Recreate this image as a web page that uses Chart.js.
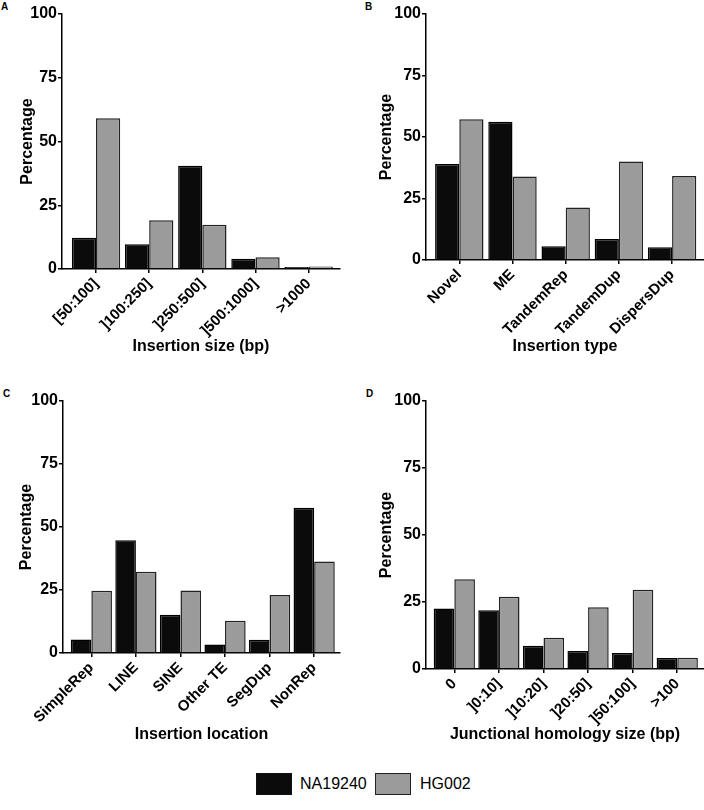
<!DOCTYPE html>
<html>
<head>
<meta charset="utf-8">
<script src="https://cdn.jsdelivr.net/npm/chart.js@4"></script>
<style>
  body { margin: 0; background: #fff; }
  #fig { position: relative; width: 704px; height: 810px; font-family: 'Liberation Sans', Arial, sans-serif; color: #000; }
  canvas { position: absolute; }
  .tag { position: absolute; font-size: 10px; line-height: 10px; font-weight: bold; }
  .key { position: absolute; top: 773px; width: 36px; height: 22px; box-sizing: border-box; border: 1.5px solid #111; }
  .keytxt { position: absolute; top: 775px; font-size: 16px; line-height: 18px; }
</style>
</head>
<body>
<div id="fig">
  <div class="tag" style="left:1px;top:2px">A</div>
  <div class="tag" style="left:365px;top:2px">B</div>
  <div class="tag" style="left:3px;top:389px">C</div>
  <div class="tag" style="left:366px;top:389px">D</div>

  <canvas id="chartA" width="352" height="360" style="left:0;top:0"></canvas>
  <canvas id="chartB" width="352" height="360" style="left:352px;top:0"></canvas>
  <canvas id="chartC" width="352" height="370" style="left:0;top:380px"></canvas>
  <canvas id="chartD" width="352" height="370" style="left:352px;top:380px"></canvas>

  <div class="key" style="left:256px;background:#0b0b0b"></div>
  <div class="keytxt" style="left:300px">NA19240</div>
  <div class="key" style="left:375px;background:#9b9b9b;border-color:#222"></div>
  <div class="keytxt" style="left:420px">HG002</div>
</div>
<script>
const seriesNames = ['NA19240', 'HG002'];

const sizeLabels = ['[50:100]', ']100:250]', ']250:500]', ']500:1000]', '>1000'];
const sizeNA = [12.3, 9.7, 40.5, 4.0, 0.8];
const sizeHG = [59.1, 19.1, 17.4, 4.6, 1.0];

const typeLabels = ['Novel', 'ME', 'TandemRep', 'TandemDup', 'DispersDup'];
const typeNA = [39.0, 56.2, 5.6, 8.5, 5.2];
const typeHG = [57.2, 33.9, 21.3, 40.0, 34.1];

const locLabels = ['SimpleRep', 'LINE', 'SINE', 'Other TE', 'SegDup', 'NonRep'];
const locNA = [5.4, 44.7, 15.2, 3.4, 5.3, 57.6];
const locHG = [24.7, 32.2, 24.8, 12.8, 23.0, 36.3];

const homLabels = ['0', ']0:10]', ']10:20]', ']20:50]', ']50:100]', '>100'];
const homNA = [22.6, 21.9, 8.7, 6.7, 6.0, 4.1];
const homHG = [33.5, 27.0, 11.7, 23.0, 29.6, 4.2];

const yTicks = [0, 25, 50, 75, 100];

const FONT = "'Liberation Sans', Arial, sans-serif";
Chart.defaults.font.family = FONT;
Chart.defaults.color = '#000';

// layout of each panel (pixels inside its canvas)
const panels = [
  { id: 'chartA', labels: sizeLabels, na: sizeNA, hg: sizeHG, title: 'Insertion size (bp)',
    top: 14, zero: 269, yW: 62, padR: 12, xMin: -0.64, xMax: 4.59, cat: 0.91, yPad: 18, tPad: 3.4 },
  { id: 'chartB', labels: typeLabels, na: typeNA, hg: typeHG, title: 'Insertion type',
    top: 14, zero: 260, yW: 74, padR: 0, xMin: -0.626, xMax: 4.6, cat: 0.91, yPad: 25, tPad: 3.4 },
  { id: 'chartC', labels: locLabels, na: locNA, hg: locHG, title: 'Insertion location',
    top: 21, zero: 273, yW: 63, padR: 12, xMin: -0.636, xMax: 5.58, cat: 0.925, yPad: 17, tPad: 5.4 },
  { id: 'chartD', labels: homLabels, na: homNA, hg: homHG, title: 'Junctional homology size (bp)',
    top: 21, zero: 289, yW: 74, padR: 0, xMin: -0.635, xMax: 5.6, cat: 0.925, yPad: 25, tPad: 5.4 }
];

const drawPanel = (p) => {
  const canvas = document.getElementById(p.id);
  const H = canvas.height;

  return new Chart(canvas, {
    type: 'bar',

    data: {
      datasets: [{
        label: seriesNames[0],
        data: p.na.map((v, i) => ({ x: i, y: v })),
        backgroundColor: '#0b0b0b',
        borderColor: '#000',
        borderWidth: 1.5
      }, {
        label: seriesNames[1],
        data: p.hg.map((v, i) => ({ x: i, y: v })),
        backgroundColor: '#9b9b9b',
        borderColor: '#222',
        borderWidth: 1.5
      }]
    },

    options: {
      responsive: false,
      animation: false,
      categoryPercentage: p.cat,
      barPercentage: 1,
      layout: { padding: { top: p.top, right: p.padR, left: 0, bottom: 0 } },

      plugins: {
        legend: { display: false },
        tooltip: { enabled: false }
      },

      scales: {
        x: {
          type: 'linear',
          offset: false,
          min: p.xMin,
          max: p.xMax,
          afterFit: (s) => { s.height = H - p.zero; },
          afterBuildTicks: (s) => { s.ticks = p.labels.map((l, i) => ({ value: i })); },
          grid: { offset: false, drawOnChartArea: false, drawTicks: true, tickLength: 4, color: '#000', lineWidth: 1.5 },
          border: { display: true, color: '#000', width: 1.5 },
          ticks: {
            autoSkip: false,
            maxRotation: 45,
            minRotation: 45,
            padding: 2,
            font: { size: 15, weight: 'bold' },
            callback: (v) => p.labels[v]
          },
          title: {
            display: true,
            text: p.title,
            font: { size: 16, weight: 'bold' },
            padding: { top: 0, bottom: p.tPad }
          }
        },
        y: {
          min: 0,
          max: 100,
          afterFit: (s) => { s.width = p.yW; },
          afterBuildTicks: (s) => { s.ticks = yTicks.map((v) => ({ value: v })); },
          grid: { drawOnChartArea: false, drawTicks: true, tickLength: 4, color: '#000', lineWidth: 1.5 },
          border: { display: true, color: '#000', width: 1.5 },
          ticks: {
            padding: 1,
            font: { size: 16, weight: 'bold' }
          },
          title: {
            display: true,
            text: 'Percentage',
            font: { size: 16, weight: 'bold' },
            padding: { top: p.yPad, bottom: 0 }
          }
        }
      }
    }
  });
};

panels.forEach(drawPanel);
</script>
</body>
</html>
